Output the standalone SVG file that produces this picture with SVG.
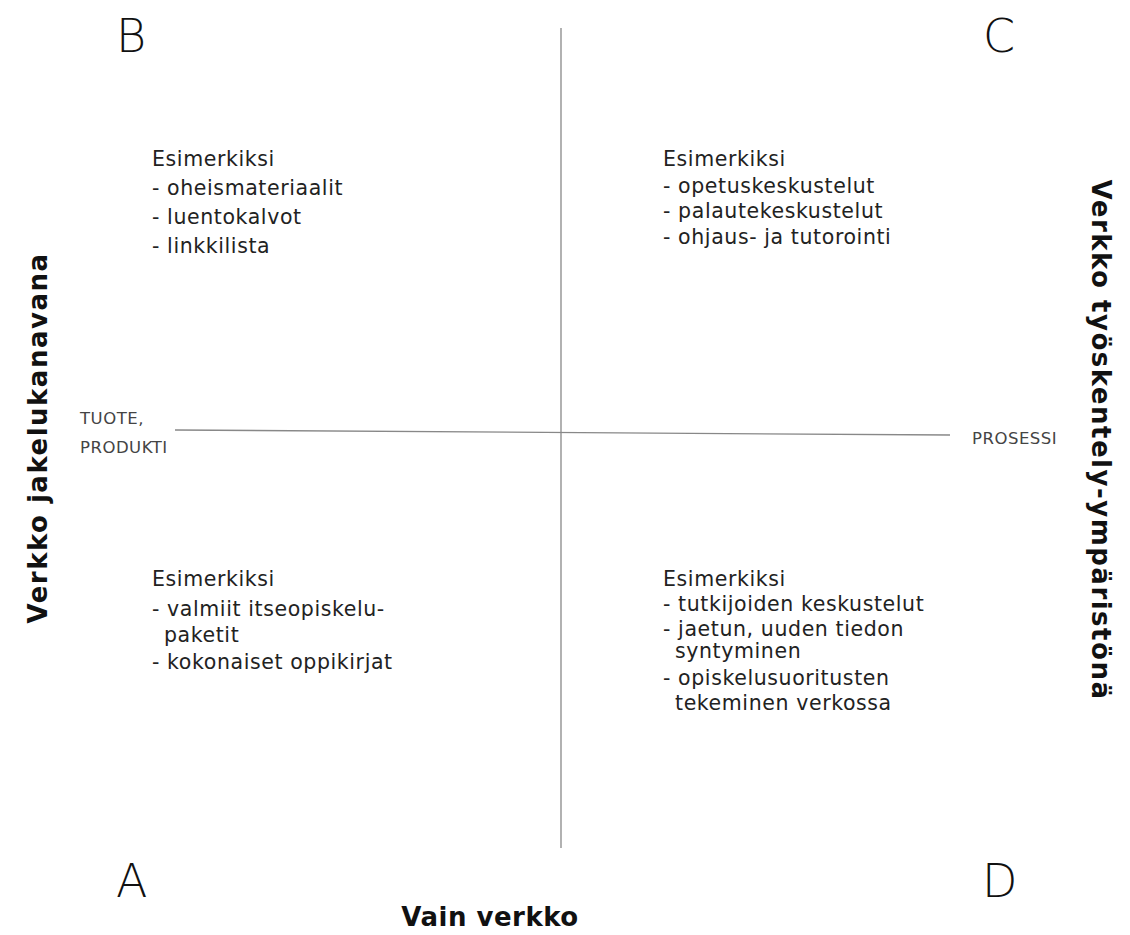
<svg xmlns="http://www.w3.org/2000/svg" width="1130" height="935" viewBox="0 0 1130 935">
<style>
.big{font-family:"DejaVu Sans","Liberation Sans",sans-serif;font-size:46px;font-weight:200;fill:#111}
.t{font-family:"DejaVu Sans","Liberation Sans",sans-serif;font-size:20.5px;letter-spacing:0.6px;fill:#222}
.s{font-family:"DejaVu Sans","Liberation Sans",sans-serif;font-size:16.5px;letter-spacing:0.5px;fill:#444}
.ax{font-family:"DejaVu Sans","Liberation Sans",sans-serif;font-size:26px;font-weight:bold;letter-spacing:1.5px;fill:#111}
.ln{stroke:#888;stroke-width:1.3;fill:none}
</style>
<rect width="1130" height="935" fill="#fff"/>
<g id="connectors">
<line class="ln" x1="561" y1="28" x2="561" y2="848"/>
<line class="ln" x1="175" y1="430" x2="950" y2="435"/>
</g>
<g id="B"><text class="big" x="116" y="52">B</text></g>
<g id="C"><text class="big" x="983" y="52">C</text></g>
<g id="A"><text class="big" x="116" y="897">A</text></g>
<g id="D"><text class="big" x="982" y="897">D</text></g>
<g id="quadB" class="t">
<text x="152" y="166">Esimerkiksi</text>
<text x="152" y="195">- oheismateriaalit</text>
<text x="152" y="224">- luentokalvot</text>
<text x="152" y="253">- linkkilista</text>
</g>
<g id="quadC" class="t">
<text x="663" y="166">Esimerkiksi</text>
<text x="663" y="193">- opetuskeskustelut</text>
<text x="663" y="218">- palautekeskustelut</text>
<text x="663" y="244">- ohjaus- ja tutorointi</text>
</g>
<g id="quadA" class="t">
<text x="152" y="586">Esimerkiksi</text>
<text x="152" y="616">- valmiit itseopiskelu-</text>
<text x="164" y="642">paketit</text>
<text x="152" y="669">- kokonaiset oppikirjat</text>
</g>
<g id="quadD" class="t">
<text x="663" y="586">Esimerkiksi</text>
<text x="663" y="611">- tutkijoiden keskustelut</text>
<text x="663" y="636">- jaetun, uuden tiedon</text>
<text x="675" y="658">syntyminen</text>
<text x="663" y="685">- opiskelusuoritusten</text>
<text x="675" y="710">tekeminen verkossa</text>
</g>
<g id="tuote" class="s">
<text x="80" y="424">TUOTE,</text>
<text x="80" y="453">PRODUKTI</text>
</g>
<g id="prosessi" class="s"><text x="972" y="444">PROSESSI</text></g>
<g id="leftAxis"><text class="ax" transform="translate(47,438) rotate(-90)" text-anchor="middle">Verkko jakelukanavana</text></g>
<g id="rightAxis"><text class="ax" transform="translate(1092,440) rotate(90)" text-anchor="middle">Verkko työskentely-ympäristönä</text></g>
<g id="bottomAxis"><text class="ax" x="490" y="926" text-anchor="middle" style="letter-spacing:0.5px">Vain verkko</text></g>
</svg>
